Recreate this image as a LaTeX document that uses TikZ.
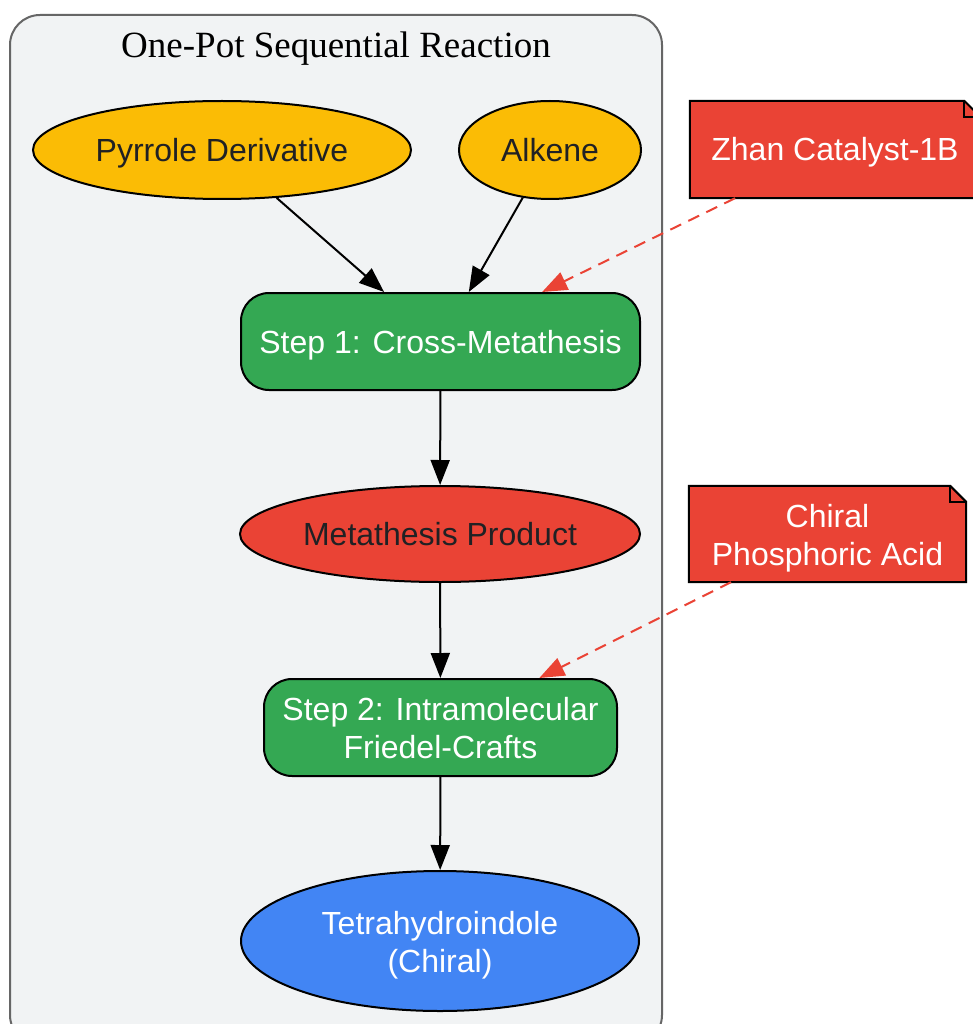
\documentclass[tikz,border=0pt]{standalone}
\usepackage{fontspec}
\setmainfont{Liberation Sans}
\newfontfamily\titlefont{Liberation Serif}
\usetikzlibrary{arrows.meta,calc,shapes.geometric,backgrounds}
\definecolor{cyel}{HTML}{FBBC05}
\definecolor{cgrn}{HTML}{34A853}
\definecolor{cred}{HTML}{EA4335}
\definecolor{cblu}{HTML}{4285F4}
\definecolor{clfill}{HTML}{F1F3F4}
\definecolor{clline}{HTML}{666666}
\definecolor{ctxt}{HTML}{202124}
\newcommand\notefold[1]{%
  \begin{scope}[on background layer]
    \filldraw[fill=cred,draw=black,line width=2pt,line join=miter]
      (#1.north west) -- ($(#1.north east)+(-16,0)$) -- ($(#1.north east)+(0,16)$)
      -- (#1.south east) -- (#1.south west) -- cycle;
    \draw[line width=2pt]
      ($(#1.north east)+(-16,0)$) -- ($(#1.north east)+(-16,16)$) -- ($(#1.north east)+(0,16)$);
  \end{scope}}
\begin{document}
\begin{tikzpicture}[x=1pt,y=-1pt,
  base/.style={inner sep=0pt,align=center,font=\fontsize{32}{38}\selectfont,line width=2pt,draw=black},
  oneline/.style={text height=30pt,text depth=7pt},
  oval/.style={base,ellipse},
  stepbox/.style={base,rectangle,rounded corners=28pt,fill=cgrn,text=white},
  notebox/.style={inner sep=0pt,align=center,font=\fontsize{32}{38}\selectfont,text=white,rectangle},
  arr/.style={line width=2pt,-{Triangle[length=25pt,width=19pt]}},
  catarr/.style={line width=2pt,draw=cred,dash pattern=on 12pt off 8pt,-{Triangle[length=25pt,width=19pt,fill=cred,color=cred,sep=0pt]}}
]
\useasboundingbox (0,0) rectangle (972,1024);
\clip (0,0) rectangle (972,1024);
\begin{scope}[on background layer]
  \fill[white] (0,0) rectangle (972,1024);
\end{scope}
\draw[rounded corners=30pt,fill=clfill,draw=clline,line width=2pt] (10,15) rectangle (662,1045);
\node[font=\titlefont\fontsize{37}{40}\selectfont] (title) at (336,49) {One-Pot Sequential Reaction};

\node[oval,oneline,fill=cyel,text=ctxt,minimum width=378pt,minimum height=98pt] (pyr) at (222,150) {Pyrrole Derivative};
\node[oval,oneline,fill=cyel,text=ctxt,minimum width=182pt,minimum height=98pt] (alk) at (550,150) {Alkene};
\node[stepbox,oneline,minimum width=399pt,minimum height=97pt] (s1) at (440.5,341.5) {Step 1: Cross-Metathesis};
\node[oval,oneline,fill=cred,text=ctxt,minimum width=400pt,minimum height=96pt] (meta) at (440,534) {Metathesis Product};
\node[stepbox,minimum width=353pt,minimum height=97pt] (s2) at (440.5,727.5) {\rule{0pt}{25pt}Step 2: Intramolecular\\Friedel-Crafts};
\node[oval,fill=cblu,text=white,minimum width=398pt,minimum height=140pt] (tet) at (440,941) {\rule{0pt}{31pt}Tetrahydroindole\\(Chiral)};

\node[notebox,oneline,minimum width=290pt,minimum height=97pt] (zhan) at (835,149.5) {Zhan Catalyst-1B};
\notefold{zhan}
\node[notebox,minimum width=277pt,minimum height=96pt] (cpa) at (827.5,534) {\rule{0pt}{31pt}Chiral\\Phosphoric Acid};
\notefold{cpa}

\draw[arr] (pyr) -- (s1);
\draw[arr] (alk) -- (s1);
\draw[arr] (s1) -- (meta);
\draw[arr] (meta) -- (s2);
\draw[arr] (s2) -- (tet);
\draw[catarr] (zhan) -- (s1);
\draw[catarr] (cpa) -- (s2);
\end{tikzpicture}
\end{document}
